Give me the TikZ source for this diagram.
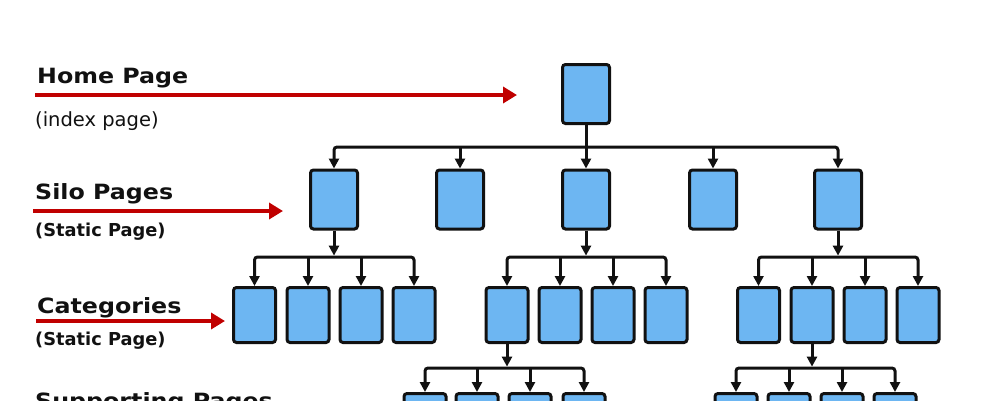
\documentclass[tikz,border=0pt]{standalone}
\usepackage{fontspec}
\setmainfont{DejaVu Sans}
\newfontfamily\smwide[FakeStretch=1.13]{DejaVu Sans}
\usepackage{xcolor}
\definecolor{smink}{HTML}{111111}
\definecolor{smblue}{HTML}{6DB6F2}
\definecolor{smred}{HTML}{C00000}
\usetikzlibrary{arrows.meta,positioning,calc}
\tikzset{
  smpage/.style  ={rectangle, rounded corners=3pt, draw=smink, fill=smblue,
                   line width=3pt, minimum width=47pt, minimum height=59pt,
                   inner sep=0pt},
  smcat/.style   ={smpage, minimum width=42pt, minimum height=55pt},
  smlink/.style  ={-{Triangle[length=10pt,width=10pt]}, line width=3pt, draw=smink},
  smbus/.style   ={{Triangle[length=10pt,width=10pt]}-{Triangle[length=10pt,width=10pt]},
                   line width=3pt, draw=smink, rounded corners=3pt},
  smpointer/.style={-{Triangle[length=14pt,width=16pt]}, line width=4pt, draw=smred},
  smhead/.style  ={anchor=base west, inner sep=0pt, text=smink,
                   font=\smwide\fontsize{21}{24}\selectfont\bfseries},
  smsub/.style   ={anchor=base west, inner sep=0pt, text=smink,
                   font=\fontsize{17.8}{20}\selectfont\bfseries},
  smnote/.style  ={anchor=base west, inner sep=0pt, text=smink,
                   font=\fontsize{19.5}{22}\selectfont},
}

\begin{document}
\begin{tikzpicture}[x=1pt, y=-1pt]
  \clip (0,0) rectangle (1003,400);
  \fill[white] (0,0) rectangle (1003,400);

  % page boxes
  \node[smpage] (home) at (586,94) {};
  \foreach \x [count=\i] in {334,460,586,713,838}
    \node[smpage] (s\i) at (\x,199.5) {};
  \foreach \x [count=\i] in {254.5,308,361,414}
    \node[smcat] (a\i) at (\x,315) {};
  \foreach \x [count=\i] in {507,560,613,666}
    \node[smcat] (c\i) at (\x,315) {};
  \foreach \x [count=\i] in {758.5,812,865,918}
    \node[smcat] (e\i) at (\x,315) {};
  \foreach \x [count=\i] in {425,477,530,584}
    \node[smcat] (d\i) at (\x,421) {};
  \foreach \x [count=\i] in {736,789,842,895}
    \node[smcat] (f\i) at (\x,421) {};

  % bus rows
  \coordinate (b0) at (586,147);
  \coordinate (b1) at (334,257);
  \coordinate (b2) at (586,257);
  \coordinate (b3) at (838,257);
  \coordinate (b4) at (507,368);
  \coordinate (b5) at (812,368);

  \draw[smlink] (home) -- (s3);
  \draw[smbus] (s1.north) |- (b0) -| (s5.north);
  \draw[smlink] (b0 -| s2) -- (s2.north);
  \draw[smlink] (b0 -| s4) -- (s4.north);

  \draw[smlink, shorten >=1.4pt] (s1) -- (b1);
  \draw[smbus] (a1.north) |- (b1) -| (a4.north);
  \draw[smlink] (b1 -| a2) -- (a2.north);
  \draw[smlink] (b1 -| a3) -- (a3.north);

  \draw[smlink, shorten >=1.4pt] (s3) -- (b2);
  \draw[smbus] (c1.north) |- (b2) -| (c4.north);
  \draw[smlink] (b2 -| c2) -- (c2.north);
  \draw[smlink] (b2 -| c3) -- (c3.north);

  \draw[smlink, shorten >=1.4pt] (s5) -- (b3);
  \draw[smbus] (e1.north) |- (b3) -| (e4.north);
  \draw[smlink] (b3 -| e2) -- (e2.north);
  \draw[smlink] (b3 -| e3) -- (e3.north);

  \draw[smlink, shorten >=1.4pt] (c1) -- (b4);
  \draw[smbus] (d1.north) |- (b4) -| (d4.north);
  \draw[smlink] (b4 -| d2) -- (d2.north);
  \draw[smlink] (b4 -| d3) -- (d3.north);

  \draw[smlink, shorten >=1.4pt] (e2) -- (b5);
  \draw[smbus] (f1.north) |- (b5) -| (f4.north);
  \draw[smlink] (b5 -| f2) -- (f2.north);
  \draw[smlink] (b5 -| f3) -- (f3.north);

  % level labels
  \node[smhead] (lhome) at (37,83) {Home Page};
  \node[smnote] (lhomesub) at (35,126) {(index page)};
  \coordinate (p0s) at (35,95);
  \coordinate (p0e) at (517,95);
  \draw[smpointer] (p0s) -- (p0e);

  \node[smhead] (lsilo) at (35,199) {Silo Pages};
  \node[smsub] (lsilosub) at (35,236) {(Static Page)};
  \coordinate (p1s) at (33,211);
  \coordinate (p1e) at (283,211);
  \draw[smpointer] (p1s) -- (p1e);

  \node[smhead] (lcat) at (37,313) {Categories};
  \node[smsub] (lcatsub) at (35,345) {(Static Page)};
  \coordinate (p2s) at (36,321);
  \coordinate (p2e) at (225,321);
  \draw[smpointer] (p2s) -- (p2e);

  \node[smhead] (lsupp) at (35,408) {Supporting Pages};
\end{tikzpicture}
\end{document}
